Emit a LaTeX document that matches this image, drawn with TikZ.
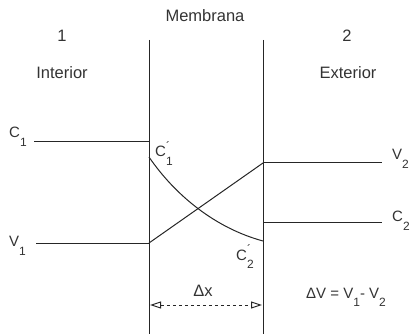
\documentclass[tikz,border=0pt]{standalone}
\usepackage{fontspec}
\setmainfont{Liberation Sans}
\usetikzlibrary{arrows.meta}

\newcommand{\lsub}[2]{#1\raisebox{-0.55em}{\fontsize{12}{12}\selectfont #2}}
\newcommand{\lsubp}[2]{#1\rlap{\raisebox{0.45em}{\fontsize{12}{12}\selectfont\char"00B4}}\raisebox{-0.55em}{\fontsize{12}{12}\selectfont #2}}

\begin{document}
\begin{tikzpicture}[
  x=1pt, y=-1pt,
  font=\fontsize{15}{18}\selectfont,
  txt/.style={inner sep=0pt, text=black!80, font=\fontsize{16.5}{19}\selectfont},
  lbl/.style={inner sep=0pt, anchor=base west, text=black!80},
  ln/.style={line width=1pt, black!85},
  arr/.style={ln, dashed, {Triangle[open,length=11pt,width=7pt]}-{Triangle[open,length=11pt,width=7pt]}}
]
\useasboundingbox (0,0) rectangle (410,334);

% membrana
\coordinate (mtl) at (149,40);
\coordinate (mbl) at (149,334);
\coordinate (mtr) at (263,40);
\coordinate (mbr) at (263,334);
\draw[ln] (mtl) -- (mbl);
\draw[ln] (mtr) -- (mbr);

% titulos
\node[txt] (membrana) at (205,16) {Membrana};
\node[txt] (uno)      at (62,36)  {1};
\node[txt] (interior) at (62,73)  {Interior};
\node[txt] (dos)      at (347,36) {2};
\node[txt] (exterior) at (348,73) {Exterior};

% concentraciones y potenciales
\node[lbl] (c1)  at (9,138)   {\lsub{C}{1}};
\node[lbl] (v1)  at (9,247)   {\lsub{V}{1}};
\node[lbl] (v2)  at (392,160) {\lsub{V}{2}};
\node[lbl] (c2)  at (392,222) {\lsub{C}{2}};
\node[lbl] (c1p) at (155,157) {\lsubp{C}{1}};
\node[lbl] (c2p) at (236,260) {\lsubp{C}{2}};

\coordinate (c1a) at (34,142);
\coordinate (c1b) at (149,142);
\coordinate (v1a) at (36,243);
\coordinate (v1b) at (149,243);
\coordinate (v2a) at (263,163);
\coordinate (v2b) at (382,163);
\coordinate (c2a) at (263,223);
\coordinate (c2b) at (382,223);
\coordinate (c1m) at (149,157);
\coordinate (c2m) at (263,241);

\draw[ln] (c1a) -- (c1b);
\draw[ln] (v1a) -- (v1b);
\draw[ln] (v2a) -- (v2b);
\draw[ln] (c2a) -- (c2b);
\draw[ln] (v1b) -- (v2a);
\draw[ln] (c1m) .. controls (175,195) and (215,228) .. (c2m);

% espesor
\coordinate (dxl) at (150,305);
\coordinate (dxr) at (262,305);
\draw[arr] (dxl) -- (dxr);
\node[txt] (dx) at (203,291) {Δx};
\node[lbl] (dv) at (306,298) {ΔV = \lsub{V}{1}- \lsub{V}{2}};

\end{tikzpicture}
\end{document}
